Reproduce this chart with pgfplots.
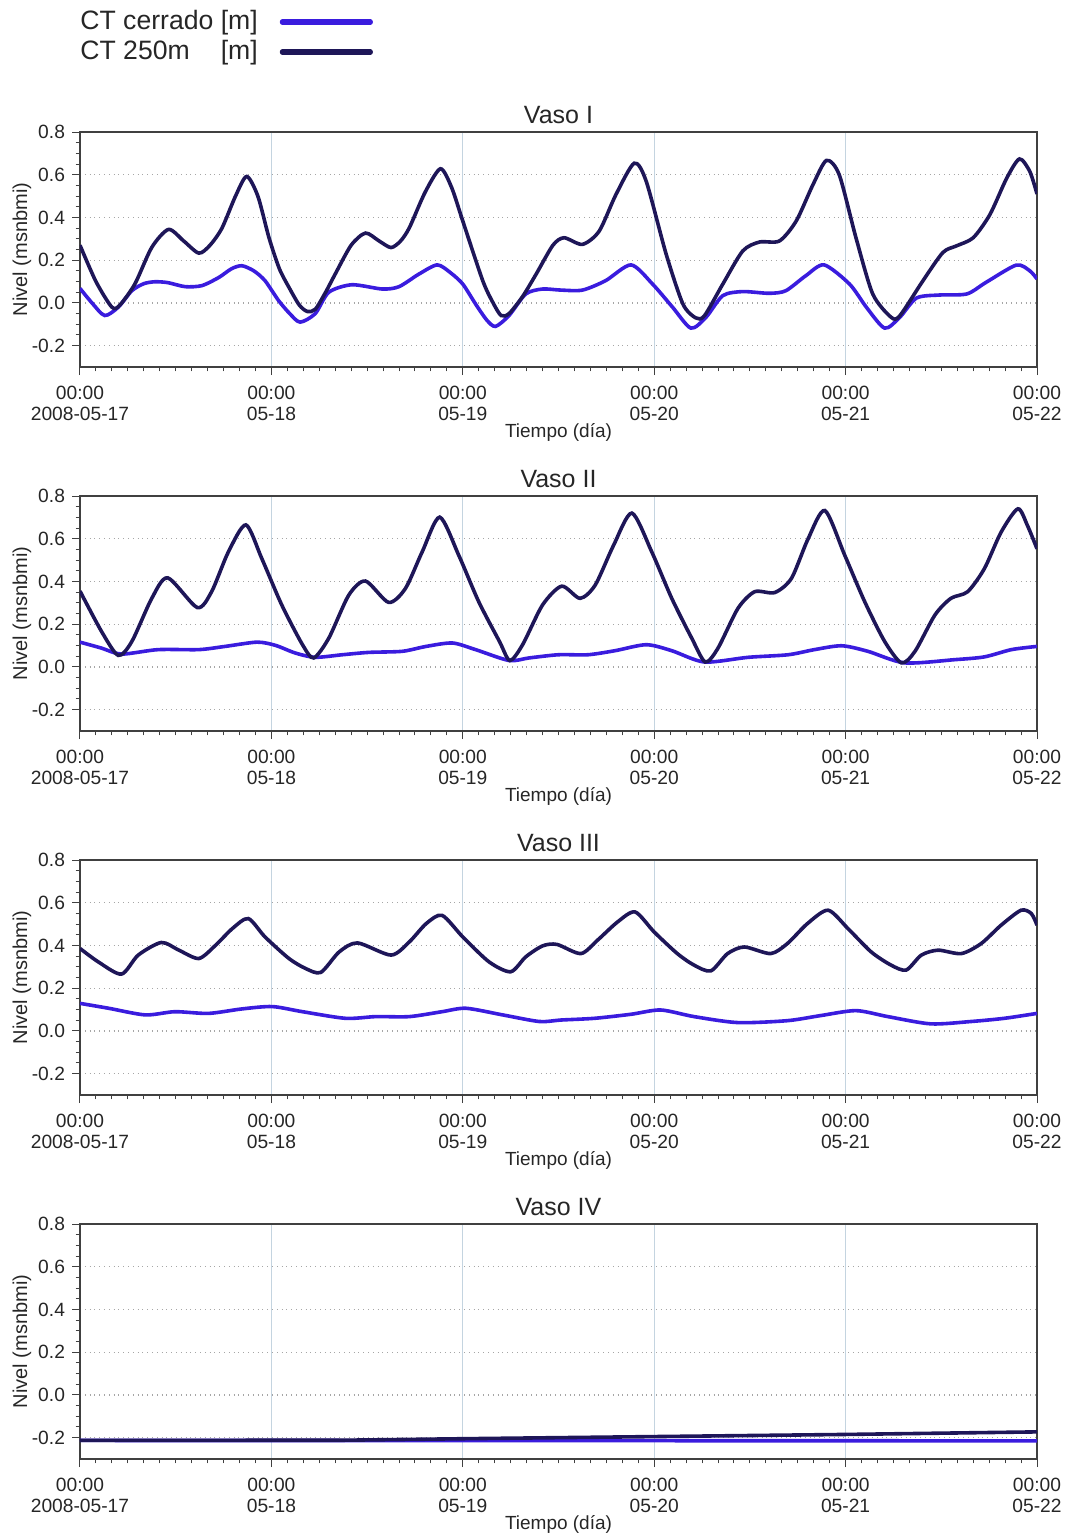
\documentclass[border=0pt]{standalone}
\usepackage{fontspec}
\setmainfont{Liberation Sans}
\usepackage{pgfplots}
\pgfplotsset{compat=1.18}
\definecolor{cerr}{RGB}{58,28,222}
\definecolor{tdark}{RGB}{30,22,88}
\definecolor{gridblue}{RGB}{196,212,224}
\pgfplotsset{
 vaso/.style={
  scale only axis, width=478.5pt, height=117.5pt,
  xmin=0, xmax=120, ymin=-0.3, ymax=0.8,
  xtick={0,24,48,72,96,120},
  xticklabels={{00:00\\2008-05-17},{00:00\\05-18},{00:00\\05-19},{00:00\\05-20},{00:00\\05-21},{00:00\\05-22}},
  minor x tick num=11,
  ytick={-0.2,0,0.2,0.4,0.6,0.8},
  yticklabels={-0.2,0.0,0.2,0.4,0.6,0.8},
  minor y tick num=3,
  tick align=outside, xtick pos=left, ytick pos=left,
  major tick length=4pt, minor tick length=2.2pt,
  tick style={color=black!75, line width=0.5pt},
  axis line style={black!75, line width=0.8pt},
  xmajorgrids, ymajorgrids,
  x grid style={color=gridblue, line width=0.5pt},
  y grid style={color=black!35, dotted, line width=0.6pt},
  ticklabel style={font=\fontsize{9.6}{10.5}\selectfont, text=black!85},
  xticklabel style={align=center, yshift=-2pt},
  xlabel={Tiempo (día)},
  ylabel={Nivel (msnbmi)},
  xlabel style={at={(axis description cs:0.5,-0.277)}, anchor=center, font=\fontsize{9.5}{11}\selectfont, text=black!85},
  ylabel style={at={(axis description cs:-0.0606,0.5)}, anchor=center, font=\fontsize{10}{12}\selectfont, text=black!85},
  title style={at={(axis description cs:0.5,1.022)}, anchor=center, font=\fontsize{12.5}{14}\selectfont, text=black!85},
 },
 cerrs/.style={color=cerr, line width=1.8pt, smooth, tension=0.45, mark=none},
 darks/.style={color=tdark, line width=1.8pt, smooth, tension=0.45, mark=none},
}
\begin{document}
\begin{tikzpicture}
\useasboundingbox (0pt,0pt) rectangle (533.5pt,-767.5pt);
% ---------------- Vaso I
\begin{axis}[vaso, at={(40pt,-183.5pt)}, anchor=south west, title={Vaso I},
  legend style={at={(axis description cs:0,1.404)}, anchor=west, draw=none, fill=none,
    font=\fontsize{13.3}{15}\selectfont, inner sep=0pt,
    nodes={inner sep=0pt, text height=10pt, text depth=3pt, anchor=west},
    column sep=11pt, row sep=2pt, text=black!85},
  legend cell align=left, legend plot pos=right,
  legend image code/.code={\draw[#1, line width=2.6pt, line cap=round] (0pt,0pt) -- (44pt,0pt);}]
\addplot[cerrs] table {
0 0.068
1.5 0.0
3.1 -0.059
4.8 -0.02
6.5 0.057
8 0.09
9.4 0.099
11 0.095
13.2 0.076
15.3 0.081
17.4 0.119
19 0.16
20.3 0.174
21.8 0.15
23.2 0.104
24.9 0.011
26.3 -0.05
27.6 -0.09
29.5 -0.05
31.2 0.05
34.1 0.085
37.9 0.065
40 0.076
42.5 0.135
44.8 0.178
46.5 0.14
48 0.088
49.6 -0.005
51 -0.08
52.1 -0.11
53.8 -0.059
55.9 0.042
58 0.065
60.3 0.06
63 0.06
65.9 0.104
69.1 0.178
71.8 0.088
74.3 -0.02
76.6 -0.118
78.5 -0.067
80.6 0.034
83.1 0.053
86.4 0.045
88.5 0.057
91 0.127
93.3 0.178
96.5 0.088
98.6 -0.02
100.9 -0.118
102.8 -0.067
104.9 0.023
107.8 0.037
111.2 0.042
113.6 0.096
117.4 0.177
119.1 0.15
120 0.112
};
\addlegendentry{CT cerrado [m]}
\addplot[darks] table {
0 0.27
2 0.10
4 -0.02
5 -0.01
6.9 0.09
9 0.26
11.1 0.344
13 0.29
14.9 0.233
16.3 0.27
17.8 0.35
19.5 0.50
20.9 0.592
22.3 0.50
23.7 0.305
25 0.16
26.2 0.073
27.5 -0.01
28.5 -0.04
29.5 -0.03
30.8 0.05
32 0.135
34 0.27
35.8 0.327
37.5 0.29
39 0.259
40.2 0.29
41.3 0.352
43.3 0.52
45.2 0.628
46.6 0.54
48 0.383
50.5 0.104
51.8 0.0
52.8 -0.059
53.8 -0.05
55.5 0.03
57.2 0.135
59.3 0.27
60.7 0.305
63 0.274
65.1 0.336
67.2 0.507
69.5 0.654
71 0.569
73.5 0.228
75.6 -0.005
77.2 -0.07
78.3 -0.06
80.6 0.088
83.1 0.243
85.2 0.285
87.7 0.29
89.8 0.383
91.9 0.553
93.6 0.667
95.2 0.6
97.3 0.305
99.4 0.042
101.7 -0.067
102.8 -0.06
105.7 0.104
108.2 0.236
109.9 0.267
112 0.305
114.1 0.414
116.2 0.584
117.8 0.674
119.1 0.615
120 0.51
};
\addlegendentry{\rlap{CT 250m}\phantom{CT cerrado} [m]}
\end{axis}
% ---------------- Vaso II
\begin{axis}[vaso, at={(40pt,-365.5pt)}, anchor=south west, title={Vaso II}]
\addplot[cerrs] table {
0 0.116
2.7 0.088
5.2 0.06
9.8 0.081
14.9 0.081
18.2 0.096
22.2 0.116
24.5 0.101
27 0.065
29.5 0.045
32.9 0.057
36.2 0.068
40.4 0.073
43.4 0.096
46.7 0.112
49.6 0.081
53.8 0.03
56.3 0.042
60 0.057
63.7 0.057
67.1 0.076
71 0.104
74.2 0.076
78.3 0.023
83.8 0.045
88.8 0.057
92.1 0.081
95.5 0.099
98.8 0.073
103.4 0.019
109.7 0.034
113.4 0.047
116.8 0.081
120 0.096
};
\addplot[darks] table {
0 0.355
2.7 0.166
4.8 0.054
6.5 0.119
9 0.321
11 0.417
14.7 0.278
16.5 0.352
18.6 0.538
20.8 0.665
22.8 0.507
25.3 0.29
27.9 0.104
29.3 0.042
31.2 0.135
33.7 0.336
35.8 0.402
38.7 0.302
40.8 0.367
42.9 0.538
45.1 0.701
47.5 0.522
50 0.305
52.6 0.119
53.9 0.03
55.5 0.104
58 0.29
60.4 0.378
62.7 0.321
64.6 0.383
66.9 0.569
69.2 0.72
71.7 0.538
74.2 0.321
76.7 0.135
78.4 0.023
80 0.088
82.5 0.274
84.6 0.352
87.1 0.348
89.2 0.414
91.3 0.6
93.4 0.732
95.9 0.522
98.4 0.305
100.9 0.119
103 0.019
104.7 0.073
107.2 0.243
109.2 0.321
111.3 0.352
113.4 0.46
115.5 0.631
117.6 0.74
118.8 0.662
120 0.553
};
\end{axis}
% ---------------- Vaso III
\begin{axis}[vaso, at={(40pt,-547.5pt)}, anchor=south west, title={Vaso III}]
\addplot[cerrs] table {
0 0.129
3.6 0.106
8.2 0.075
11.9 0.09
16.1 0.082
20.3 0.103
24.1 0.114
27.9 0.09
33.3 0.059
37.1 0.067
41.3 0.067
45.4 0.09
48.4 0.106
53 0.075
57.6 0.044
60.3 0.051
64.5 0.059
69.1 0.078
72.8 0.098
77 0.067
82.5 0.039
88.7 0.048
92.9 0.072
97.3 0.095
101.3 0.067
106.7 0.033
111.7 0.044
115.9 0.059
120 0.082
};
\addplot[darks] table {
0 0.386
2.3 0.323
5.2 0.266
7.3 0.355
10.2 0.414
12.4 0.378
14.9 0.339
17 0.401
19.1 0.479
21.1 0.526
23.2 0.44
26.2 0.339
28.3 0.292
30.2 0.274
32.5 0.37
34.8 0.412
39 0.355
41.3 0.417
43.4 0.502
45.4 0.541
48 0.44
51.3 0.323
54 0.277
55.9 0.347
58 0.398
59.8 0.405
62.8 0.362
64.9 0.425
67.4 0.51
69.6 0.557
72 0.463
74.9 0.362
77 0.308
79.1 0.281
81.2 0.362
83.3 0.393
86.6 0.362
88.7 0.409
91.2 0.502
93.8 0.565
96.3 0.479
99.2 0.37
101.7 0.308
103.6 0.285
105.5 0.355
107.6 0.378
110.5 0.362
113 0.409
115.5 0.495
118 0.565
119.3 0.549
120 0.495
};
\end{axis}
% ---------------- Vaso IV
\begin{axis}[vaso, at={(40pt,-729.5pt)}, anchor=south west, title={Vaso IV}]
\addplot[color=cerr, line width=1.8pt, mark=none] table {
0 -0.213
60 -0.214
120 -0.215
};
\addplot[color=tdark, line width=1.8pt, mark=none] table {
0 -0.213
33 -0.212
48 -0.205
72 -0.195
96 -0.185
120 -0.173
};
\end{axis}
\end{tikzpicture}
\end{document}
